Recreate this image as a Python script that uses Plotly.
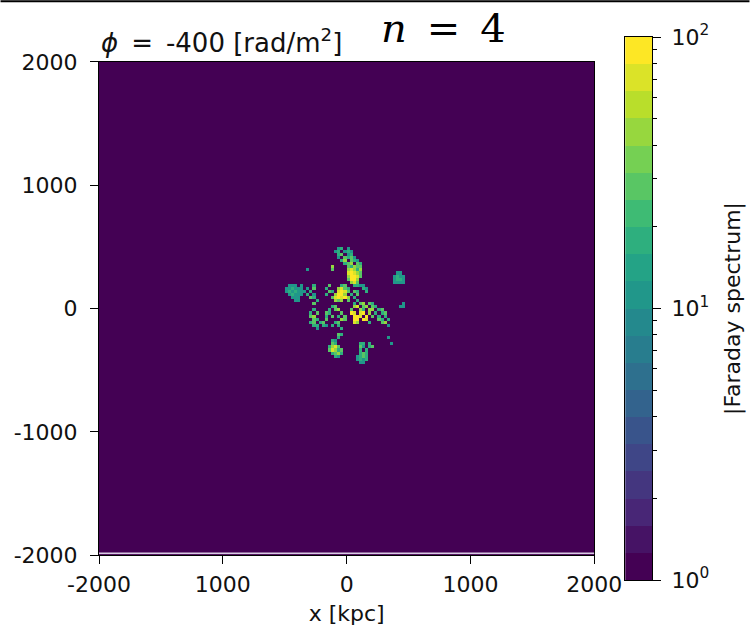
import numpy as np
import plotly.graph_objects as go
from plotly.colors import sample_colorscale

# ---------------- data ----------------
X_TICKS = [-2000, -1000, 0, 1000, 2000]
X_TICK_TEXT = ["-2000", "1000", "0", "1000", "2000"]
Y_TICKS = [-2000, -1000, 0, 1000, 2000]
Y_TICK_TEXT = ["-2000", "-1000", "0", "1000", "2000"]
EXTENT_KPC = [-2000, 2000]
CELL_KPC = 25
PATCH_LEFT_KPC = -500
PATCH_TOP_KPC = 525
BACKGROUND_VALUE = 1.0
# |Faraday spectrum| levels used in the patch map
LEVEL_VALUES = {".": 1.0, "1": 3.0, "2": 6.0, "3": 10.0, "4": 18.0,
                "5": 30.0, "6": 50.0, "7": 75.0, "8": 100.0}
# central patch (rows from top, 25 kpc cells)
PATCH_ROWS = [
    "",
    ".................34.3",
    "................34.343",
    ".................45.34",
    ".................3.5453",
    "..................46.543",
    "...................456.54",
    "...............6....54655",
    ".......3.......5....67646",
    "....................78765...........33",
    "....................68875..........3433",
    "....................5886...........3443",
    ".....................675...........3333",
    ".333.3...4....5...45..4433",
    "334333.3.5...4...6754....43",
    "3434333.4.....54.7875.54..4",
    ".34333.4.3...4..6886.4.5",
    "..333...54.....578786.4",
    "...33.....4.....656.5..4",
    ".........5............4.56.54.........3",
    "...............45.....67.56.54.......33",
    ".........4....4.56...5..64.66.45",
    "........4.5..54...5..87.78.6.4.45",
    "........56...4.5.4.5..887.8.5.4.4",
    ".........54..5....65..88.87...54.4",
    "........45.45...45....76...4...56",
    ".........44.43.4.4...............3",
    "..........3.......4",
    "",
    ".................54",
    ".................4...............3",
    "...............43",
    "...............54.......44.4......3",
    "..............4675......53.45",
    "..............57645.....4.4",
    "...............4564.....454",
    "................43.....3454",
    ".......................3434",
    "........................33",
    "",
]
CBAR_LOG_MIN, CBAR_LOG_MAX = 0, 2
N_LEVELS = 20
CBAR_TICKS = [0, 1, 2]
CBAR_TICK_TEXT = ["10<sup>0</sup>", "10<sup>1</sup>", "10<sup>2</sup>"]
CBAR_MINOR = [np.log10(k) + d for d in (0, 1) for k in range(2, 10)]

# ---------------- build grid ----------------
n = int((EXTENT_KPC[1] - EXTENT_KPC[0]) / CELL_KPC)
centers = EXTENT_KPC[0] + CELL_KPC * (np.arange(n) + 0.5)
vals = np.full((n, n), BACKGROUND_VALUE)
col0 = int((PATCH_LEFT_KPC - EXTENT_KPC[0]) / CELL_KPC)
top_row = int((PATCH_TOP_KPC - EXTENT_KPC[0]) / CELL_KPC) - 1
width = max(len(r) for r in PATCH_ROWS)
for j, row in enumerate(PATCH_ROWS):
    for i, ch in enumerate(row.ljust(width, ".")):
        vals[top_row - j, col0 + i] = LEVEL_VALUES[ch]
zlog = np.log10(vals)

# discrete viridis (20 levels)
cols = sample_colorscale("Viridis", [b / (N_LEVELS - 1) for b in range(N_LEVELS)])
cscale = []
for b, c in enumerate(cols):
    cscale.append([b / N_LEVELS, c])
    cscale.append([(b + 1) / N_LEVELS, c])

band_step = (CBAR_LOG_MAX - CBAR_LOG_MIN) / N_LEVELS
band_centers = CBAR_LOG_MIN + band_step * (np.arange(N_LEVELS) + 0.5)

# ---------------- figure ----------------
W, H = 753, 634
ML, MR, MT, MB = 99, 98, 37, 52
PW, PH = W - ML - MR, H - MT - MB

def px_x(x):
    return (x - ML) / PW

def px_y(y):
    return (H - MB - y) / PH

FONT = dict(family="DejaVu Sans", size=22, color="#111111")

fig = go.Figure()
fig.add_trace(go.Heatmap(
    x=centers, y=centers, z=zlog, zmin=CBAR_LOG_MIN, zmax=CBAR_LOG_MAX,
    colorscale=cscale, showscale=False, xaxis="x", yaxis="y",
    hoverinfo="skip"))
fig.add_trace(go.Heatmap(
    x=[0], y=band_centers, z=[[v] for v in band_centers],
    zmin=CBAR_LOG_MIN, zmax=CBAR_LOG_MAX, colorscale=cscale,
    showscale=False, xaxis="x2", yaxis="y2", hoverinfo="skip"))

axis_common = dict(showgrid=False, zeroline=False, showline=True, mirror=True,
                   linecolor="black", linewidth=1, ticks="outside",
                   tickcolor="black", tickfont=FONT)

fig.update_layout(
    width=W, height=H, margin=dict(l=ML, r=MR, t=MT, b=MB),
    paper_bgcolor="white", plot_bgcolor="white",
    xaxis=dict(domain=[0, px_x(597)], range=EXTENT_KPC, anchor="y",
               tickmode="array", tickvals=X_TICKS, ticktext=X_TICK_TEXT,
               ticklen=8, ticklabelstandoff=2,
               title=dict(text="x [kpc]", font=FONT, standoff=9),
               **axis_common),
    yaxis=dict(domain=[px_y(557), px_y(62)], range=EXTENT_KPC, anchor="x",
               tickmode="array", tickvals=Y_TICKS, ticktext=Y_TICK_TEXT,
               ticklen=8, ticklabelstandoff=8,
               **axis_common),
    xaxis2=dict(domain=[px_x(628), px_x(655)], range=[-0.5, 0.5], anchor="y2",
                showgrid=False, zeroline=False, showline=True, mirror=True,
                linecolor="black", linewidth=1, showticklabels=False, ticks=""),
    yaxis2=dict(domain=[0, 1], range=[CBAR_LOG_MIN, CBAR_LOG_MAX], anchor="x2",
                side="right", tickmode="array", tickvals=CBAR_TICKS,
                ticktext=CBAR_TICK_TEXT, ticklen=8, ticklabelstandoff=6,
                minor=dict(tickmode="array", tickvals=CBAR_MINOR, ticks="outside",
                           ticklen=4, tickcolor="black", showgrid=False),
                title=dict(text="|Faraday spectrum|", font=FONT, standoff=16),
                **axis_common),
)

fig.add_annotation(text="<i>ϕ</i>\u2002=\u2002-400 [rad/m<sup>2</sup>]", xref="paper", yref="paper",
                   x=0, y=px_y(41), xanchor="left", yanchor="middle",
                   showarrow=False, font=dict(family="DejaVu Sans", size=26, color="#111111"))
fig.add_annotation(text="<i>n</i>\u2002=\u20024", xref="paper", yref="paper",
                   x=px_x(445), y=px_y(28), xanchor="center", yanchor="middle",
                   showarrow=False, font=dict(family="DejaVu Serif", size=40, color="black"))

# thin light line at the bottom edge of the map and the top border of the image
fig.add_shape(type="line", xref="x", yref="y", x0=EXTENT_KPC[0], x1=EXTENT_KPC[1],
              y0=-1986, y1=-1986, line=dict(color="#d9cce3", width=1.5), layer="above")
fig.add_shape(type="line", xref="paper", yref="paper", x0=px_x(0), x1=px_x(W),
              y0=px_y(1), y1=px_y(1), line=dict(color="black", width=2))

fig.write_html("out.html")
